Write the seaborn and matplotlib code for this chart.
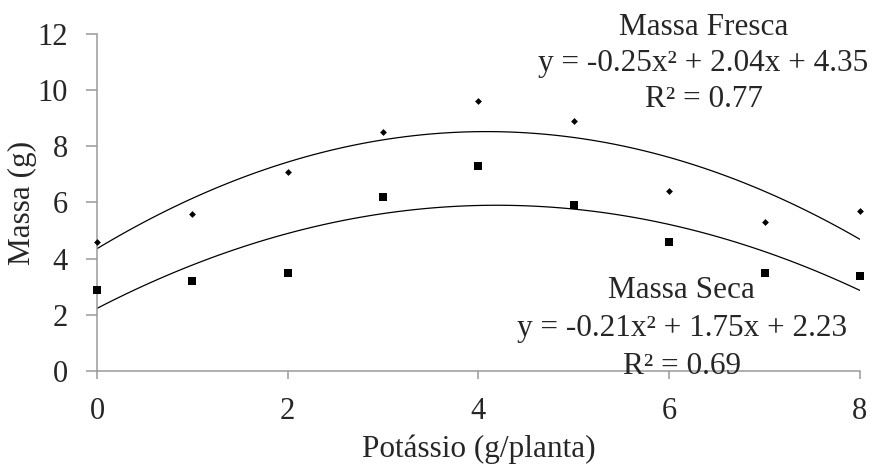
import numpy as np
import pandas as pd
import seaborn as sns
import matplotlib
matplotlib.use('Agg')
import matplotlib.pyplot as plt

# potassium dose (g/planta) and measured mass (g)
potassio = [0, 1, 2, 3, 4, 5, 6, 7, 8]
massa_fresca = [4.6, 5.6, 7.1, 8.5, 9.6, 8.9, 6.4, 5.3, 5.7]
massa_seca = [2.9, 3.2, 3.5, 6.2, 7.3, 5.9, 4.6, 3.5, 3.4]

fresca_label = ["Massa Fresca", "y = -0.25x\u00b2 + 2.04x + 4.35", "R\u00b2 = 0.77"]
seca_label = ["Massa Seca", "y = -0.21x\u00b2 + 1.75x + 2.23", "R\u00b2 = 0.69"]

x_ticks = [0, 2, 4, 6, 8]
y_ticks = [0, 2, 4, 6, 8, 10, 12]

sns.set_style("white")
plt.rcParams['font.family'] = ['Liberation Serif', 'DejaVu Serif']

df = pd.DataFrame({'x': potassio, 'fresca': massa_fresca, 'seca': massa_seca})

fig = plt.figure(figsize=(8.76, 4.69), dpi=100)
ax = fig.add_axes([0.1107, 0.209, 0.871, 0.7185])

# quadratic trend lines fitted from the data
sns.regplot(x='x', y='fresca', data=df, order=2, ci=None, scatter=False,
            line_kws={'color': 'black', 'lw': 0.9}, ax=ax)
sns.regplot(x='x', y='seca', data=df, order=2, ci=None, scatter=False,
            line_kws={'color': 'black', 'lw': 0.9}, ax=ax)
sns.scatterplot(x='x', y='fresca', data=df, marker='D', s=12, color='black',
                edgecolor='black', linewidth=0, ax=ax, clip_on=False, zorder=3)
sns.scatterplot(x='x', y='seca', data=df, marker='s', s=40, color='black',
                edgecolor='black', linewidth=0, ax=ax, clip_on=False, zorder=3)

ax.set_xlim(0, 8)
ax.set_ylim(0, 12)
ax.set_xticks(x_ticks)
ax.set_yticks(y_ticks)
for side in ['top', 'right']:
    ax.spines[side].set_visible(False)
for side in ['left', 'bottom']:
    ax.spines[side].set_color('#9a9a9a')
    ax.spines[side].set_linewidth(1.1)
ax.tick_params(axis='y', direction='out', length=8, width=1.1, color='#9a9a9a',
               labelsize=22, pad=13, left=True)
ax.tick_params(axis='x', direction='out', length=6, width=1.1, color='#9a9a9a',
               labelsize=22, pad=13, bottom=True)
ax.set_xlabel("Potássio (g/planta)", fontsize=22.5, labelpad=6)
ax.set_ylabel("Massa (g)", fontsize=22.5, labelpad=0)

# equation annotations
for i, txt in enumerate(fresca_label):
    ax.text(6.36, 11.95 - i * 1.28, txt, fontsize=22.5, ha='center', va='baseline')
for i, txt in enumerate(seca_label):
    ax.text(6.13, 2.6 - i * 1.35, txt, fontsize=22.5, ha='center', va='baseline')

fig.savefig('out.png', dpi=100)
